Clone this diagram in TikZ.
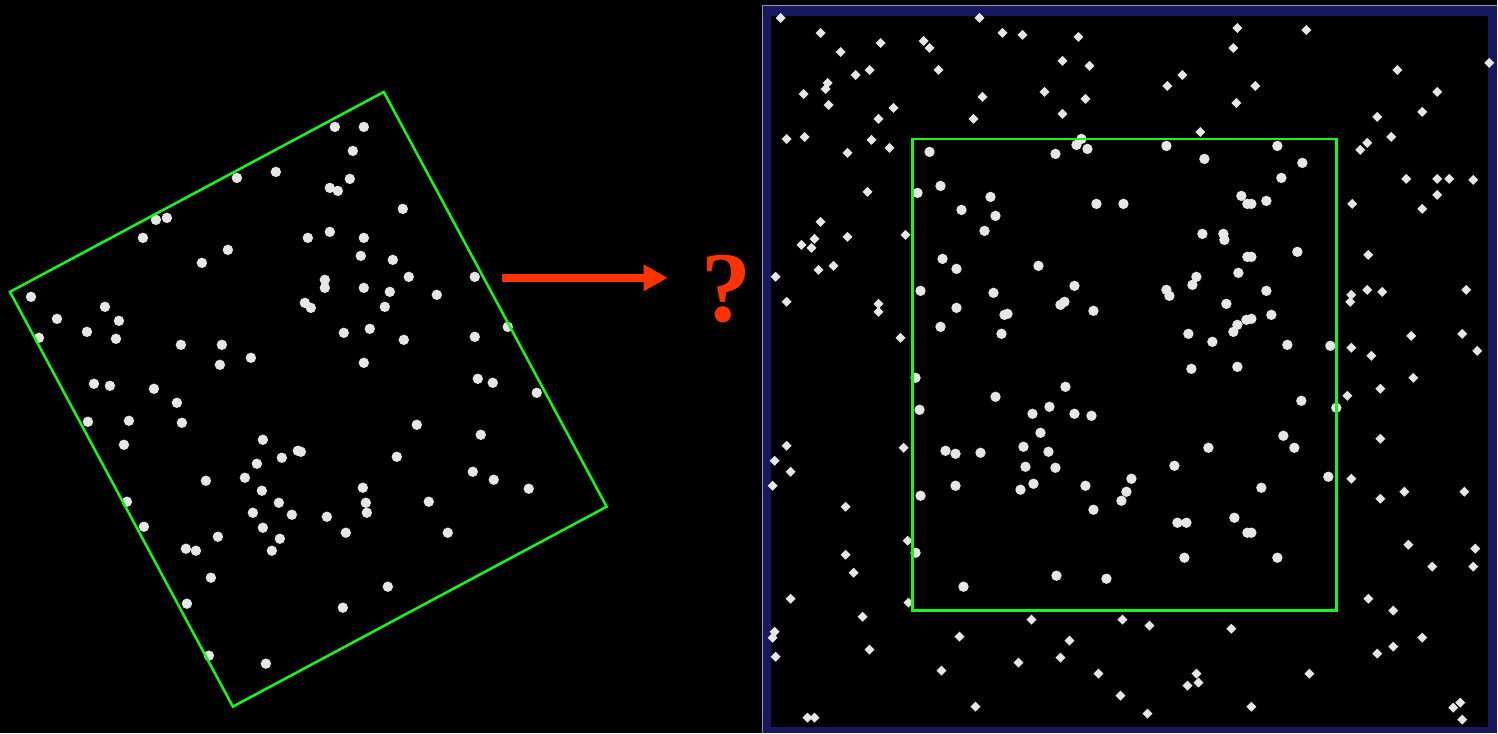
\documentclass[tikz,border=0pt]{standalone}
\usepackage{fontspec}
\setmainfont{Liberation Serif}
\usepackage{xcolor}
\usepackage{tikz}
\usetikzlibrary{arrows.meta}

\definecolor{framegreen}{RGB}{20,250,20}
\definecolor{arrowred}{RGB}{255,51,0}
\definecolor{stargrey}{RGB}{230,230,230}
\definecolor{framenavy}{RGB}{24,24,96}
\definecolor{edgegrey}{RGB}{150,150,160}

\begin{document}
\begin{tikzpicture}[
  x=0.1mm, y=-0.1mm,
  blob/.style={fill=stargrey},
  window/.style={draw=framegreen, line width=0.25mm},
  sparkle/.pic={
    \fill[stargrey] (-5,0) -- (0,-5) -- (5,0) -- (0,5) -- cycle;
    \fill[stargrey] (0,0) circle (0.3mm);
  }
]

% Background
\fill[black] (0,0) rectangle (1498,733);

% Rotated field: stars
\foreach \px/\py in {237/178,276/172,156/220,167/218,143/238,202/263,228/250,308/238,
  31/297,105/307,57/319,119/321,87/332,39/338,116/339,181/345,222/345,220/365,
  251/358,305/303,311/308,94/384,110/386,154/389,335/127,364/127,353/151,350/179,
  330/188,338/191,403/209,330/232,364/238,361/256,393/260,409/277,325/280,325/288,
  364/288,390/292,385/307,437/295,475/277,344/333,370/329,404/340,364/363,475/337,
  508/327,478/379,493/383,537/393,177/403,88/422,129/421,182/423,124/445,263/440,
  298/451,282/458,257/464,245/478,206/481,262/491,279/503,292/515,253/513,263/528,
  280/539,272/551,218/537,186/549,196/551,127/502,144/527,211/578,187/604,209/656,
  266/664,417/425,481/435,301/452,397/457,473/472,494/480,529/489,363/488,366/503,
  367/513,429/502,327/517,346/533,448/533,388/587,343/608}
  \fill[blob] (\px,\py) circle (0.52mm);

% Rotated field: window
\draw[window] (10,292) -- (384,92) -- (607,507) -- (233,707) -- cycle;

% Arrow and question mark
\coordinate (arrstart) at (502,278);
\coordinate (arrtip) at (668,278);
\draw[arrowred, line width=0.8mm, -{Triangle[length=2.4mm, width=2.5mm]}] (arrstart) -- (arrtip);
\node[text=arrowred, font=\bfseries\fontsize{28.5}{30}\selectfont, anchor=base, inner sep=0] (qmark) at (727,322) {?};

% Catalogue field: frame
\fill[framenavy] (763,5) rectangle (1498,733);
\fill[black] (771,16) rectangle (1489,727);
\draw[edgegrey, line width=0.15mm] (763,733) -- (763,5.5) -- (1498,5.5);

% Catalogue field: faint stars
\foreach \px/\py in {781/18,821/33,980/18,1003/33,881/43,841/52,924/41,930/48,856/75,
  870/70,939/70,828/83,826/89,804/94,829/105,894/108,983/97,879/119,974/119,787/139,
  805/137,872/140,890/148,848/153,868/192,821/222,815/239,812/248,802/245,848/237,
  906/235,819/270,834/266,776/277,787/302,879/304,879/312,901/338,787/446,775/461,
  791/472,773/486,904/448,846/507,908/541,846/555,854/573,791/599,909/603,863/617,
  775/632,773/638,776/657,870/650,960/637,942/671,976/707,808/718,815/718,
  1023/35,1079/37,1063/61,1090/66,1045/92,1086/99,1063/114,1168/86,1183/75,1238/28,
  1234/48,1237/103,1201/132,1032/620,1123/620,1150/626,1232/629,1070/641,1061/658,
  1019/663,1099/674,1197/674,1199/683,1188/686,1121/696,1148/714,1307/30,1256/86,
  1398/70,1438/92,1490/63,1378/117,1423/112,1368/143,1361/150,1392/137,1353/204,
  1407/179,1438/179,1450/179,1474/180,1438/195,1423/209,1369/255,1352/295,1351/302,
  1368/290,1383/292,1467/290,1412/336,1463/334,1478/351,1352/348,1372/356,1414/378,
  1381/389,1348/396,1381/439,1352/479,1381/499,1405/492,1465/492,1409/545,1476/549,
  1433/567,1474/567,1369/599,1394/611,1423/638,1378/654,1394/647,1310/674,1252/707,
  1461/703,1454/708,1463/720}
  \pic at (\px,\py) {sparkle};

% Catalogue field: bright stars
\foreach \px/\py in {930/152,941/186,918/193,962/210,991/197,996/216,985/231,943/259,
  957/269,921/291,994/293,957/308,1005/315,941/327,1002/334,916/378,920/410,996/397,
  946/451,956/454,981/453,956/486,921/496,916/553,964/587,1082/139,1077/145,1088/149,
  1056/154,1167/146,1205/159,1097/204,1124/204,1242/196,1248/204,1203/234,1224/234,
  1225/240,1039/266,1075/286,1065/302,1061/305,1094/311,1008/314,1167/290,1170/296,
  1197/277,1193/285,1239/273,1248/257,1227/304,1238/325,1234/332,1247/320,1189/334,
  1213/342,1192/369,1238/367,1066/387,1033/414,1050/407,1075/414,1092/416,1041/433,
  1024/447,1049/452,1026/467,1056/468,1034/484,1021/490,1086/486,1094/510,1132/479,
  1127/492,1122/501,1175/466,1209/448,1178/523,1187/523,1235/518,1248/533,1185/558,
  1057/576,1107/579,1278/146,1303/163,1282/178,1252/204,1267/201,1298/252,1252/257,
  1267/291,1272/315,1252/319,1288/345,1331/346,1302/401,1337/408,1284/436,1295/448,
  1329/477,1262/488,1252/533,1278/558}
  \fill[blob] (\px,\py) circle (0.52mm);

% Catalogue field: window
\draw[window] (913,139) rectangle (1337,611);

\end{tikzpicture}
\end{document}
